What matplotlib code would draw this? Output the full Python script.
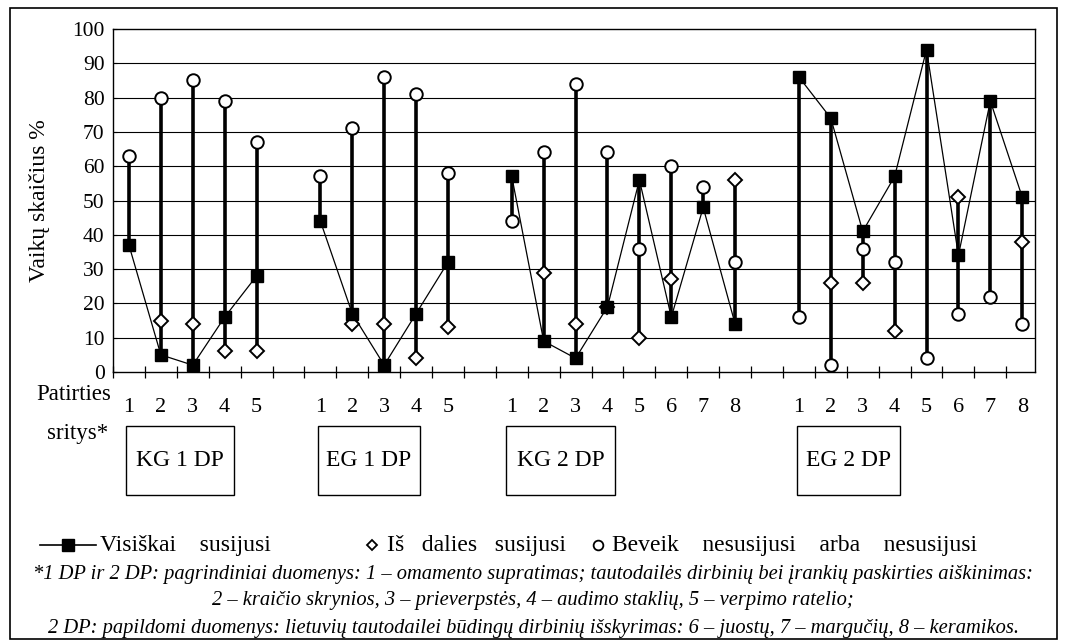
import numpy as np
import matplotlib
matplotlib.use('Agg')
import matplotlib.pyplot as plt
from matplotlib.patches import Rectangle
from matplotlib.lines import Line2D

plt.rcParams['font.family'] = ['Liberation Serif', 'DejaVu Serif']

nan = np.nan
groups = ['KG 1 DP', 'EG 1 DP', 'KG 2 DP', 'EG 2 DP']
areas = [[1, 2, 3, 4, 5], [1, 2, 3, 4, 5], [1, 2, 3, 4, 5, 6, 7, 8], [1, 2, 3, 4, 5, 6, 7, 8]]
# Visiskai susijusi (filled squares)
visiskai = [[37, 5, 2, 16, 28],
            [44, 17, 2, 17, 32],
            [57, 9, 4, 19, 56, 16, 48, 14],
            [86, 74, 41, 57, 94, 34, 79, 51]]
# Is dalies susijusi (diamonds)
is_dalies = [[nan, 15, 14, 6, 6],
             [nan, 14, 14, 4, 13],
             [nan, 29, 14, 19, 10, 27, nan, 56],
             [nan, 26, 26, 12, nan, 51, nan, 38]]
# Beveik nesusijusi arba nesusijusi (circles)
beveik = [[63, 80, 85, 79, 67],
          [57, 71, 86, 81, 58],
          [44, 64, 84, 64, 36, 60, 54, 32],
          [16, 2, 36, 32, 4, 17, 22, 14]]

W, H = 1065, 644
fig = plt.figure(figsize=(W / 100, H / 100), dpi=100)
ax = fig.add_axes([113 / W, 1 - 372 / H, (1035 - 113) / W, (372 - 29) / H])

def fx(px):
    return px / W

def fy(py):
    return 1 - py / H

# positions: groups separated by one empty slot
starts = []
s = 0
for a in areas:
    starts.append(s)
    s += len(a) + 1

for y in range(10, 100, 10):
    ax.axhline(y, color='black', lw=0.8, zorder=1)

all_pos = []
all_lab = []
for g in range(len(groups)):
    pos = np.arange(len(areas[g])) + starts[g]
    v = np.array(visiskai[g], float)
    d = np.array(is_dalies[g], float)
    b = np.array(beveik[g], float)
    stack = np.vstack([v, d, b])
    lo = np.nanmin(stack, axis=0)
    hi = np.nanmax(stack, axis=0)
    ax.vlines(pos, lo, hi, color='black', lw=2.6, zorder=2)
    ax.plot(pos, v, color='black', lw=0.9, zorder=3)
    ax.plot(pos, v, 's', color='black', ms=9, zorder=5)
    ax.plot(pos, d, 'D', mfc='white', mec='black', mew=1.4, ms=7, zorder=4)
    ax.plot(pos, b, 'o', mfc='white', mec='black', mew=1.4, ms=9, zorder=4)
    all_pos += list(pos)
    all_lab += [str(n) for n in areas[g]]

ax.set_xlim(-0.47, 28.4)
ax.set_ylim(0, 100)
ax.set_xticks(all_pos)
ax.set_xticklabels(all_lab, fontsize=16)
ax.tick_params(axis='x', which='major', length=0, pad=19)
ax.set_xticks(np.arange(-0.5, 28.5, 1), minor=True)
ax.tick_params(axis='x', which='minor', direction='inout', length=9, width=0.9)
ax.set_yticks(range(0, 101, 10))
ax.tick_params(axis='y', direction='in', length=3, labelsize=15.5, pad=6)
for sp in ax.spines.values():
    sp.set_linewidth(1.0)
ax.set_ylabel('Vaikų skaičius %', fontsize=17)
ax.yaxis.set_label_coords(-0.068, 0.5)

fig.text(fx(74), fy(394), 'Patirties', fontsize=16.5, ha='center', va='center')
fig.text(fx(78), fy(434), 'sritys*', fontsize=16.5, ha='center', va='center')

boxes = [(126, 234), (318, 420), (506, 615), (797, 900)]
for (x0, x1), name in zip(boxes, groups):
    fig.add_artist(Rectangle((fx(x0), fy(495)), fx(x1 - x0), (495 - 426) / H,
                             transform=fig.transFigure, fill=False, lw=1.0, ec='black'))
    fig.text(fx((x0 + x1) / 2), fy(460), name, fontsize=17, ha='center', va='center')

# legend
ly = fy(545)
fig.add_artist(Line2D([fx(40), fx(96)], [ly, ly], transform=fig.transFigure, color='black', lw=1.2))
fig.add_artist(Line2D([fx(68)], [ly], transform=fig.transFigure, marker='s', color='black', ms=9))
fig.text(fx(100), ly, 'Visiškai    susijusi', fontsize=17, va='center')
fig.add_artist(Line2D([fx(372)], [ly], transform=fig.transFigure, marker='D', mfc='white',
                      mec='black', mew=1.3, ms=5.5))
fig.text(fx(387), ly, 'Iš   dalies   susijusi', fontsize=17, va='center')
fig.add_artist(Line2D([fx(598)], [ly], transform=fig.transFigure, marker='o', mfc='white',
                      mec='black', mew=1.3, ms=7))
fig.text(fx(612), ly, 'Beveik    nesusijusi    arba    nesusijusi', fontsize=17, va='center')

notes = ['*1 DP ir 2 DP: pagrindiniai duomenys: 1 – omamento supratimas; tautodailės dirbinių bei įrankių paskirties aiškinimas:',
         '2 – kraičio skrynios, 3 – prieverpstės, 4 – audimo staklių, 5 – verpimo ratelio;',
         '2 DP: papildomi duomenys: lietuvių tautodailei būdingų dirbinių išskyrimas: 6 – juostų, 7 – margučių, 8 – keramikos.']
for i, t in enumerate(notes):
    fig.text(fx(533), fy(574 + 27 * i), t, fontsize=14.8, style='italic', ha='center', va='center')

fig.add_artist(Rectangle((fx(10), fy(639)), fx(1057 - 10), (639 - 8) / H,
                         transform=fig.transFigure, fill=False, lw=1.2, ec='black'))

fig.savefig('out.png', dpi=100)
